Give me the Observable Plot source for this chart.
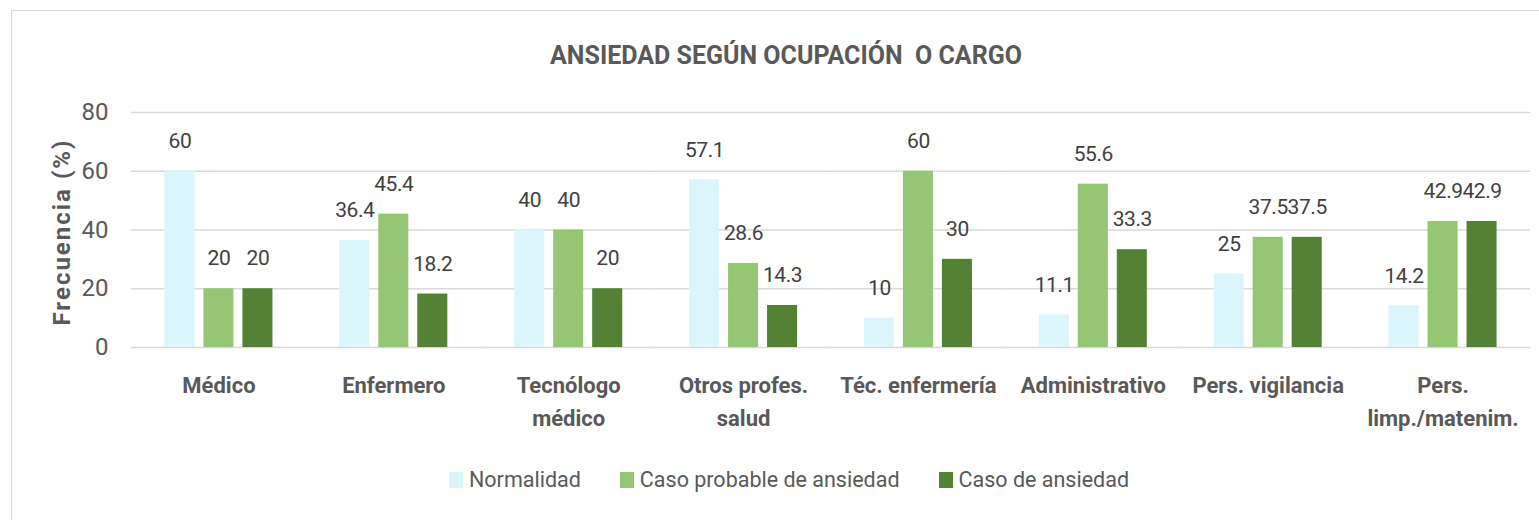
<!DOCTYPE html>
<html>
<head>
<meta charset="utf-8">
<script src="https://cdn.jsdelivr.net/npm/d3@7"></script>
<script src="https://cdn.jsdelivr.net/npm/@observablehq/plot@0.6"></script>
<style>
  html, body { margin: 0; padding: 0; background: #fff; }
  body { width: 1539px; height: 520px; position: relative; overflow: hidden;
         font-family: "Roboto", sans-serif; color: #595959; }
  #frame { position: absolute; left: 11px; top: 10px; width: 1540px; height: 520px;
           border: 1.5px solid #d9d9d9; box-sizing: border-box; }
  #title { position: absolute; left: 0; top: 41px; width: 1572px; text-align: center;
           font-weight: bold; font-size: 25px; color: #595959; white-space: pre; }
  #ylabel { position: absolute; left: 62px; top: 232px; transform: translate(-50%, -50%) rotate(-90deg);
            font-weight: bold; font-size: 24px; color: #595959; white-space: pre; letter-spacing: 2px; }
  #chart { position: absolute; left: 0; top: 90px; }
  #chart svg g.vlabels text { letter-spacing: -0.4px; }
  #legend { position: absolute; left: 449px; top: 467px; display: flex;
            font-size: 21.5px; color: #595959; white-space: nowrap; }
  .item { display: flex; align-items: center; margin-right: 39px; }
  .sw { width: 14px; height: 16px; display: inline-block; margin-right: 6px; }
</style>
</head>
<body>
<div id="frame"></div>
<div id="title">ANSIEDAD SEGÚN OCUPACIÓN  O CARGO</div>
<div id="ylabel">Frecuencia (%)</div>
<div id="chart"></div>
<div id="legend"></div>
<script>
const categories = ["Médico", "Enfermero", "Tecnólogo\nmédico", "Otros profes.\nsalud", "Téc. enfermería", "Administrativo", "Pers. vigilancia", "Pers.\nlimp./matenim."];
const series = ["Normalidad", "Caso probable de ansiedad", "Caso de ansiedad"];
const normalidad = [60, 36.4, 40, 57.1, 10, 11.1, 25, 14.2];
const casoProbable = [20, 45.4, 40, 28.6, 60, 55.6, 37.5, 42.9];
const casoAnsiedad = [20, 18.2, 20, 14.3, 30, 33.3, 37.5, 42.9];
const yTicks = [0, 20, 40, 60, 80];
const colors = ["#daf6fc", "#95c674", "#548235"];

const values = [normalidad, casoProbable, casoAnsiedad];
const data = [];
categories.forEach((c, i) => {
  series.forEach((s, j) => data.push({cat: c, serie: s, value: values[j][i]}));
});

const fontFamily = '"Roboto", sans-serif';

const chart = Plot.plot({
  width: 1539,
  height: 350,
  marginTop: 22,
  marginBottom: 93,
  marginLeft: 131,
  marginRight: 9,
  style: {fontFamily, background: "transparent", color: "#595959", overflow: "visible"},
  fx: {domain: categories, padding: 0, round: false, label: null},
  x: {domain: series, paddingInner: 0.23, paddingOuter: 0.857, round: false, axis: null},
  y: {domain: [0, 80], axis: null},
  color: {domain: series, range: colors},
  marks: [
    Plot.gridY(yTicks, {stroke: "#d9d9d9", strokeOpacity: 1, strokeWidth: 1.5}),
    Plot.axisY(yTicks, {tickSize: 0, tickPadding: 23, fontSize: 24, label: null, fill: "#595959"}),
    Plot.axisFx({anchor: "bottom", tickSize: 0, tickPadding: 22, fontSize: 22, fontWeight: "bold", lineHeight: 1.5, label: null, fill: "#595959"}),
    Plot.barY(data, {fx: "cat", x: "serie", y: "value", fill: "serie"}),
    Plot.text(data, {fx: "cat", x: "serie", y: "value", text: d => String(d.value), dy: -30, fontSize: 21, fill: "#404040", className: "vlabels"})
  ]
});
document.getElementById("chart").appendChild(chart);

const legend = document.getElementById("legend");
series.forEach((s, i) => {
  const it = document.createElement("div");
  it.className = "item";
  const sw = document.createElement("span");
  sw.className = "sw";
  sw.style.background = colors[i];
  const t = document.createElement("span");
  t.textContent = s;
  it.appendChild(sw); it.appendChild(t);
  legend.appendChild(it);
});
</script>
</body>
</html>
